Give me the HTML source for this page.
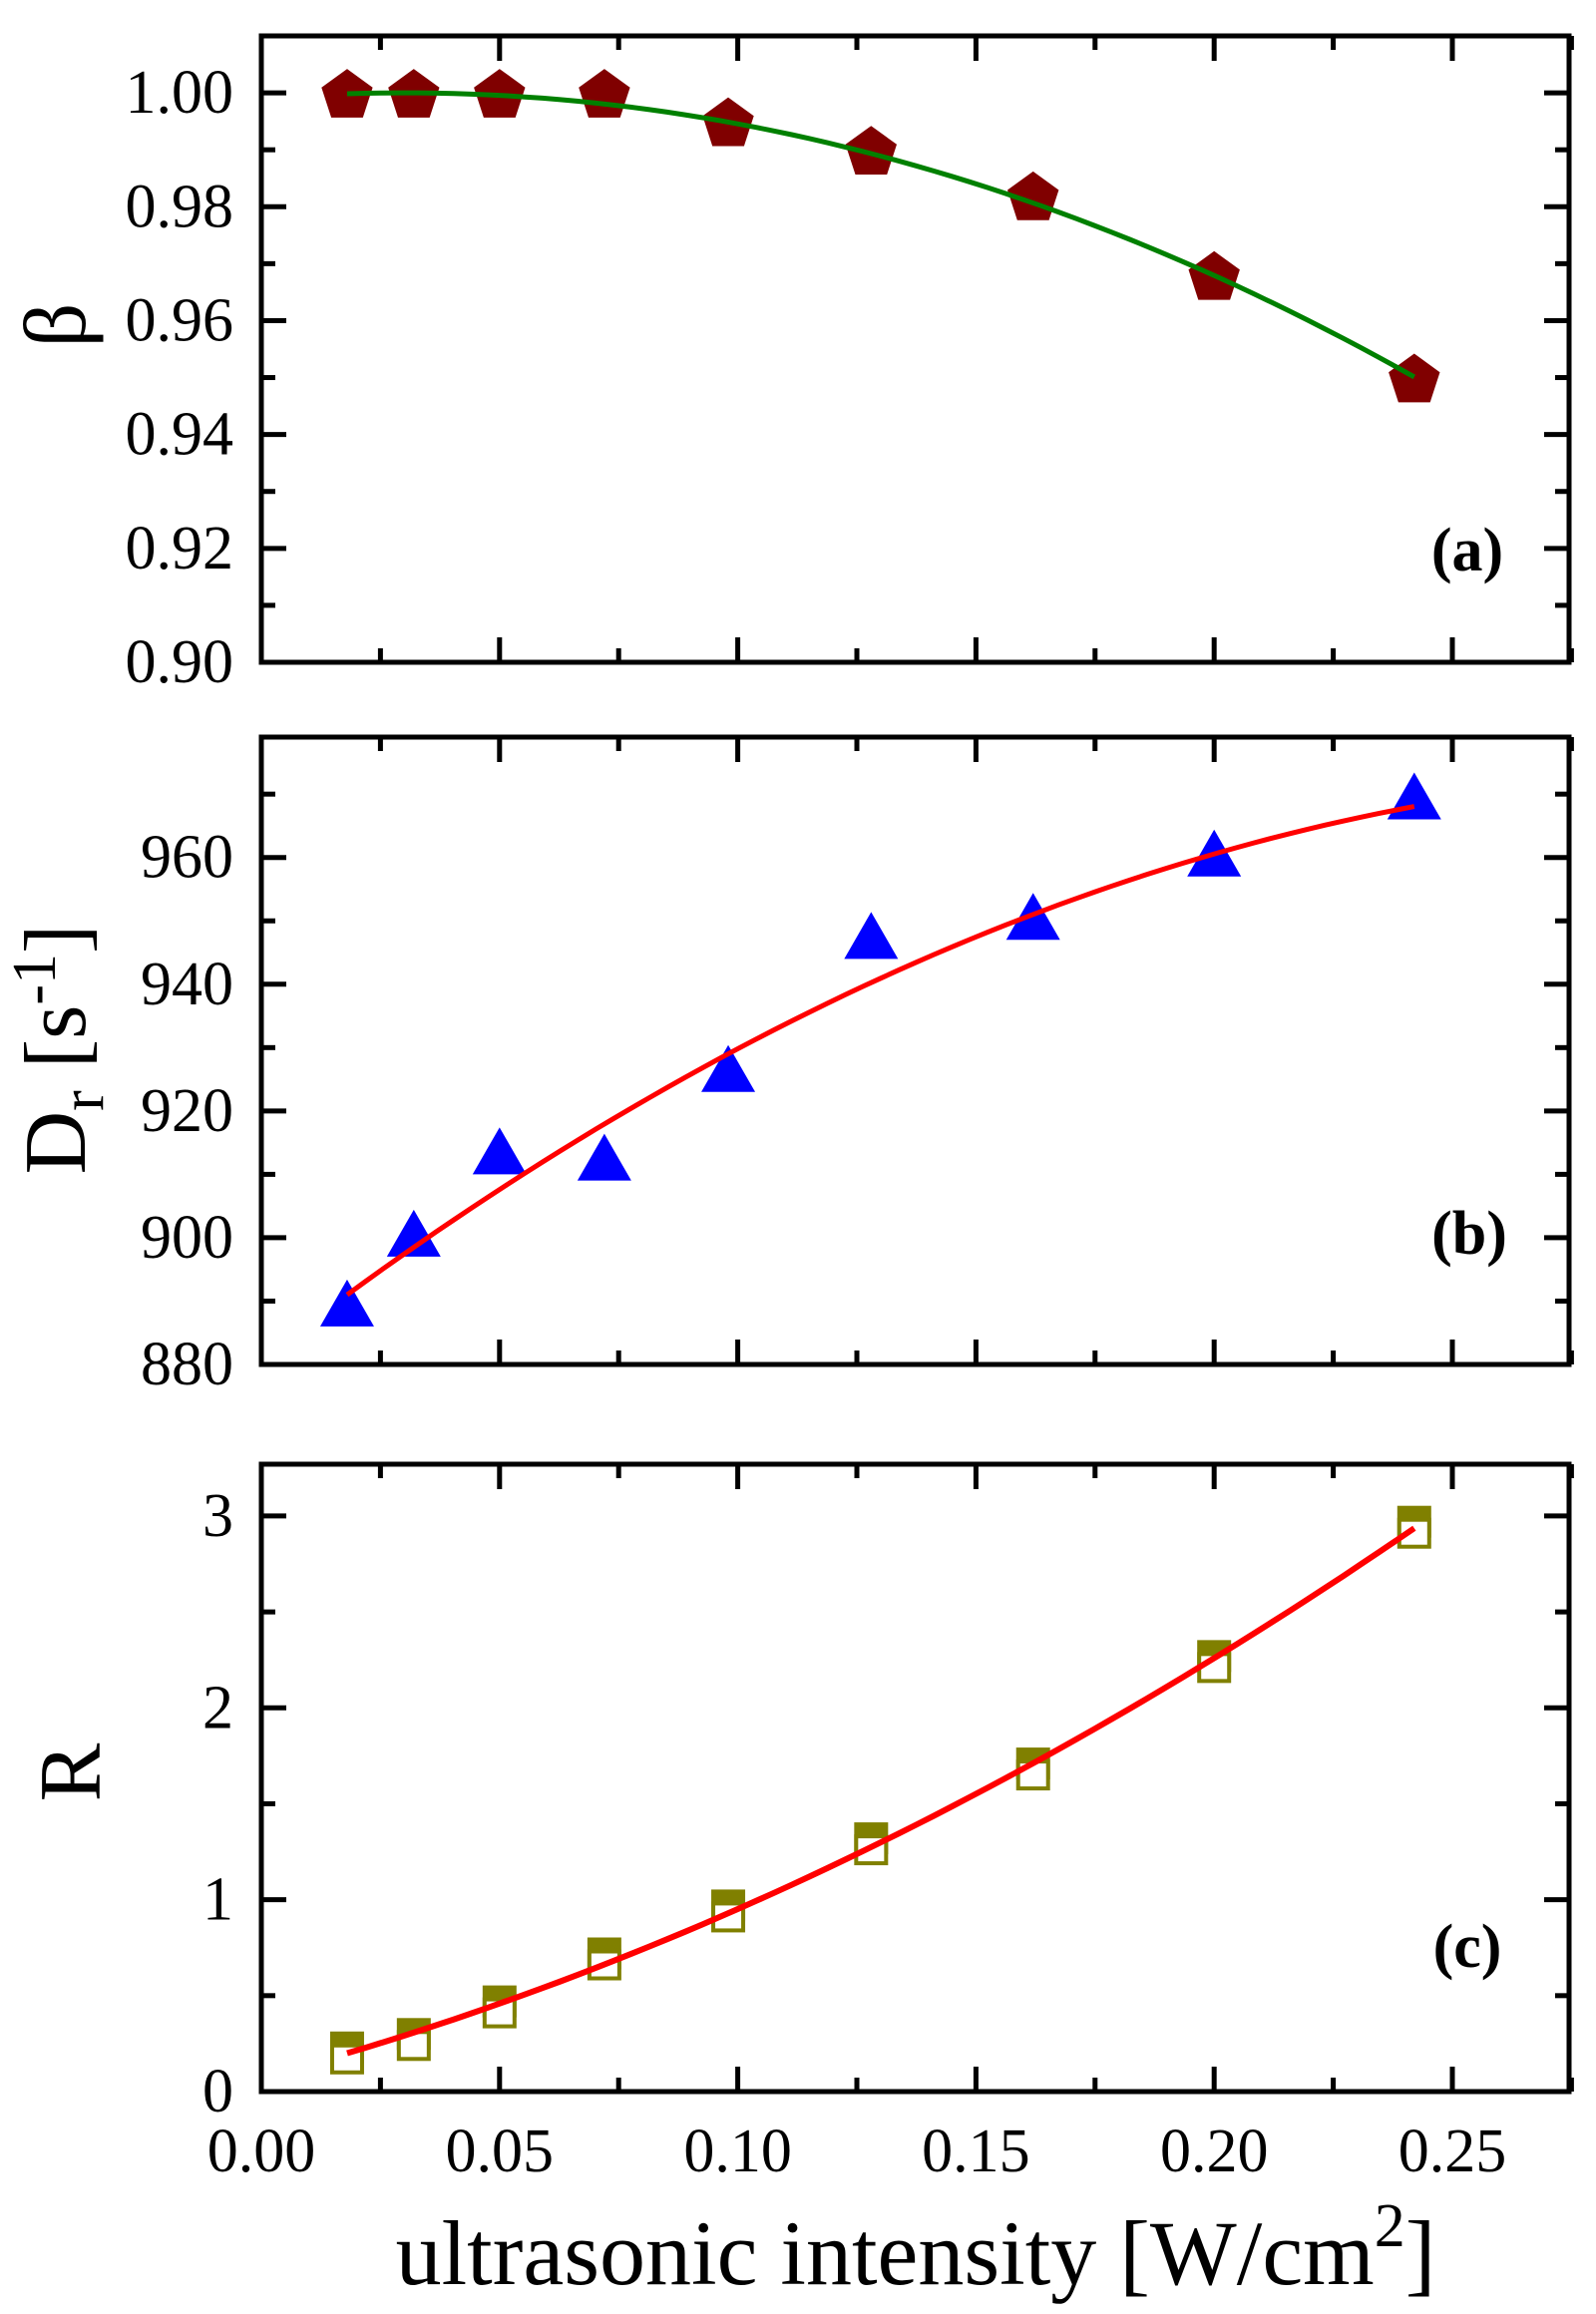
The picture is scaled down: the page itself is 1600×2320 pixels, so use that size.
<!DOCTYPE html>
<html><head><meta charset="utf-8"><style>
html,body{margin:0;padding:0;background:#fff;}
svg{display:block;}
text{font-family:"Liberation Serif","Times New Roman",serif;}
</style></head><body>
<svg id="s" width="1600" height="2320" viewBox="0 0 1600 2320" xmlns="http://www.w3.org/2000/svg" font-family="Liberation Serif, serif"></svg>
<script>
const s=document.getElementById('s');let h='';
const X0=262,X1=1573;const xp=v=>X0+v/0.05*238.8;
const xs=[0.018,0.032,0.05,0.072,0.098,0.128,0.162,0.2,0.242];
const FF='font-family="Liberation Serif, serif"';
function frame(T,B,ymin,ymax,major,minor,fmt){
  const yp=v=>B-(v-ymin)/(ymax-ymin)*(B-T);
  h+=`<rect x="${X0}" y="${T}" width="${X1-X0}" height="${B-T}" fill="none" stroke="#000" stroke-width="5"/>`;
  for(let v=0;v<=0.2751;v+=0.025){const x=xp(v);const m=Math.round(v/0.025)%2==0;const L=m?25:14;
    h+=`<line x1="${x}" y1="${B}" x2="${x}" y2="${B-L}" stroke="#000" stroke-width="5"/><line x1="${x}" y1="${T}" x2="${x}" y2="${T+L}" stroke="#000" stroke-width="5"/>`;}
  for(let v=ymin;v<=ymax-0.3*minor;v+=minor){const y=yp(v);const m=Math.abs(Math.round((v-ymin)/major)*major-(v-ymin))<1e-6;const L=m?25:14;
    h+=`<line x1="${X0}" y1="${y}" x2="${X0+L}" y2="${y}" stroke="#000" stroke-width="5"/><line x1="${X1}" y1="${y}" x2="${X1-L}" y2="${y}" stroke="#000" stroke-width="5"/>`;
    if(m)h+=`<text ${FF} x="234" y="${y+20}" font-size="62" text-anchor="end">${fmt(v)}</text>`;}
  return yp;
}
function curve(f,yp,col,w){let d='';for(let i=0;i<=60;i++){const v=0.018+(0.242-0.018)*i/60;d+=(i?'L':'M')+xp(v).toFixed(1)+','+yp(f(v)).toFixed(1);}
  h+=`<path d="${d}" fill="none" stroke="${col}" stroke-width="${w}"/>`;}
// panel a
let ya=frame(36,664,0.90,1.01,0.02,0.01,v=>v.toFixed(2));
const beta=[1,1,1,1,0.995,0.99,0.982,0.968,0.95];
xs.forEach((x,i)=>{const cx=xp(x),cy=ya(beta[i]);let p=[];for(let k=0;k<5;k++){const a=-Math.PI/2+k*2*Math.PI/5;p.push((cx+27*Math.cos(a)).toFixed(1)+','+(cy+3+27*Math.sin(a)).toFixed(1));}
  h+=`<polygon points="${p.join(' ')}" fill="#800000"/>`;});
curve(v=>1.0-1.11*(v-0.03)*(v-0.03),ya,'#008000',5);
h+=`<text ${FF} x="1471" y="572" font-size="62" font-weight="bold" text-anchor="middle">(a)</text>`;
h+=`<text ${FF} transform="translate(85,326) rotate(-90)" font-size="88" text-anchor="middle">β</text>`;
// panel b
let yb=frame(739,1368,880,979,20,10,v=>Math.round(v));
const dr=[889,900,913,912,926,947,950,960,969];
xs.forEach((x,i)=>{const cx=xp(x),cy=yb(dr[i]);h+=`<polygon points="${cx},${cy-28} ${cx+27},${cy+19} ${cx-27},${cy+19}" fill="#0000ff"/>`;});
curve(v=>{const t=v-0.018;return 891+548*t-911*t*t;},yb,'#ff0000',5);
h+=`<text ${FF} x="1473" y="1257" font-size="62" font-weight="bold" text-anchor="middle">(b)</text>`;
h+=`<text ${FF} transform="translate(85,1052) rotate(-90)" font-size="88" text-anchor="middle">D<tspan font-size="62" dy="18">r</tspan><tspan dy="-18"> [s</tspan><tspan font-size="62" dy="-30">-1</tspan><tspan dy="30">]</tspan></text>`;
// panel c
let yc=frame(1468,2097,0,3.27,1,0.5,v=>Math.round(v));
const Rf=[0.23,0.3,0.47,0.72,0.97,1.32,1.71,2.27,2.97];
xs.forEach((x,i)=>{const cx=xp(x),cy=yc(Rf[i]);h+=`<rect x="${cx-17}" y="${cy-16}" width="34" height="32" fill="#808000"/><rect x="${cx-15}" y="${cy-2}" width="30" height="27" fill="#fff" stroke="#808000" stroke-width="4"/>`;});
curve(v=>0.2+7.4*(v-0.018)+21.5*(v-0.018)*(v-0.018),yc,'#ff0000',6);
h+=`<text ${FF} x="1471" y="1972" font-size="62" font-weight="bold" text-anchor="middle">(c)</text>`;
h+=`<text ${FF} transform="translate(100,1777) rotate(-90)" font-size="88" text-anchor="middle">R</text>`;
// x labels
for(let i=0;i<=5;i++){h+=`<text ${FF} x="${xp(i*0.05)}" y="2177" font-size="62" text-anchor="middle">${(i*0.05).toFixed(2)}</text>`;}
h+=`<text ${FF} x="918" y="2290" font-size="92" text-anchor="middle">ultrasonic intensity [W/cm<tspan font-size="62" dy="-38">2</tspan><tspan dy="38">]</tspan></text>`;
s.innerHTML=h;
</script>
</body></html>
